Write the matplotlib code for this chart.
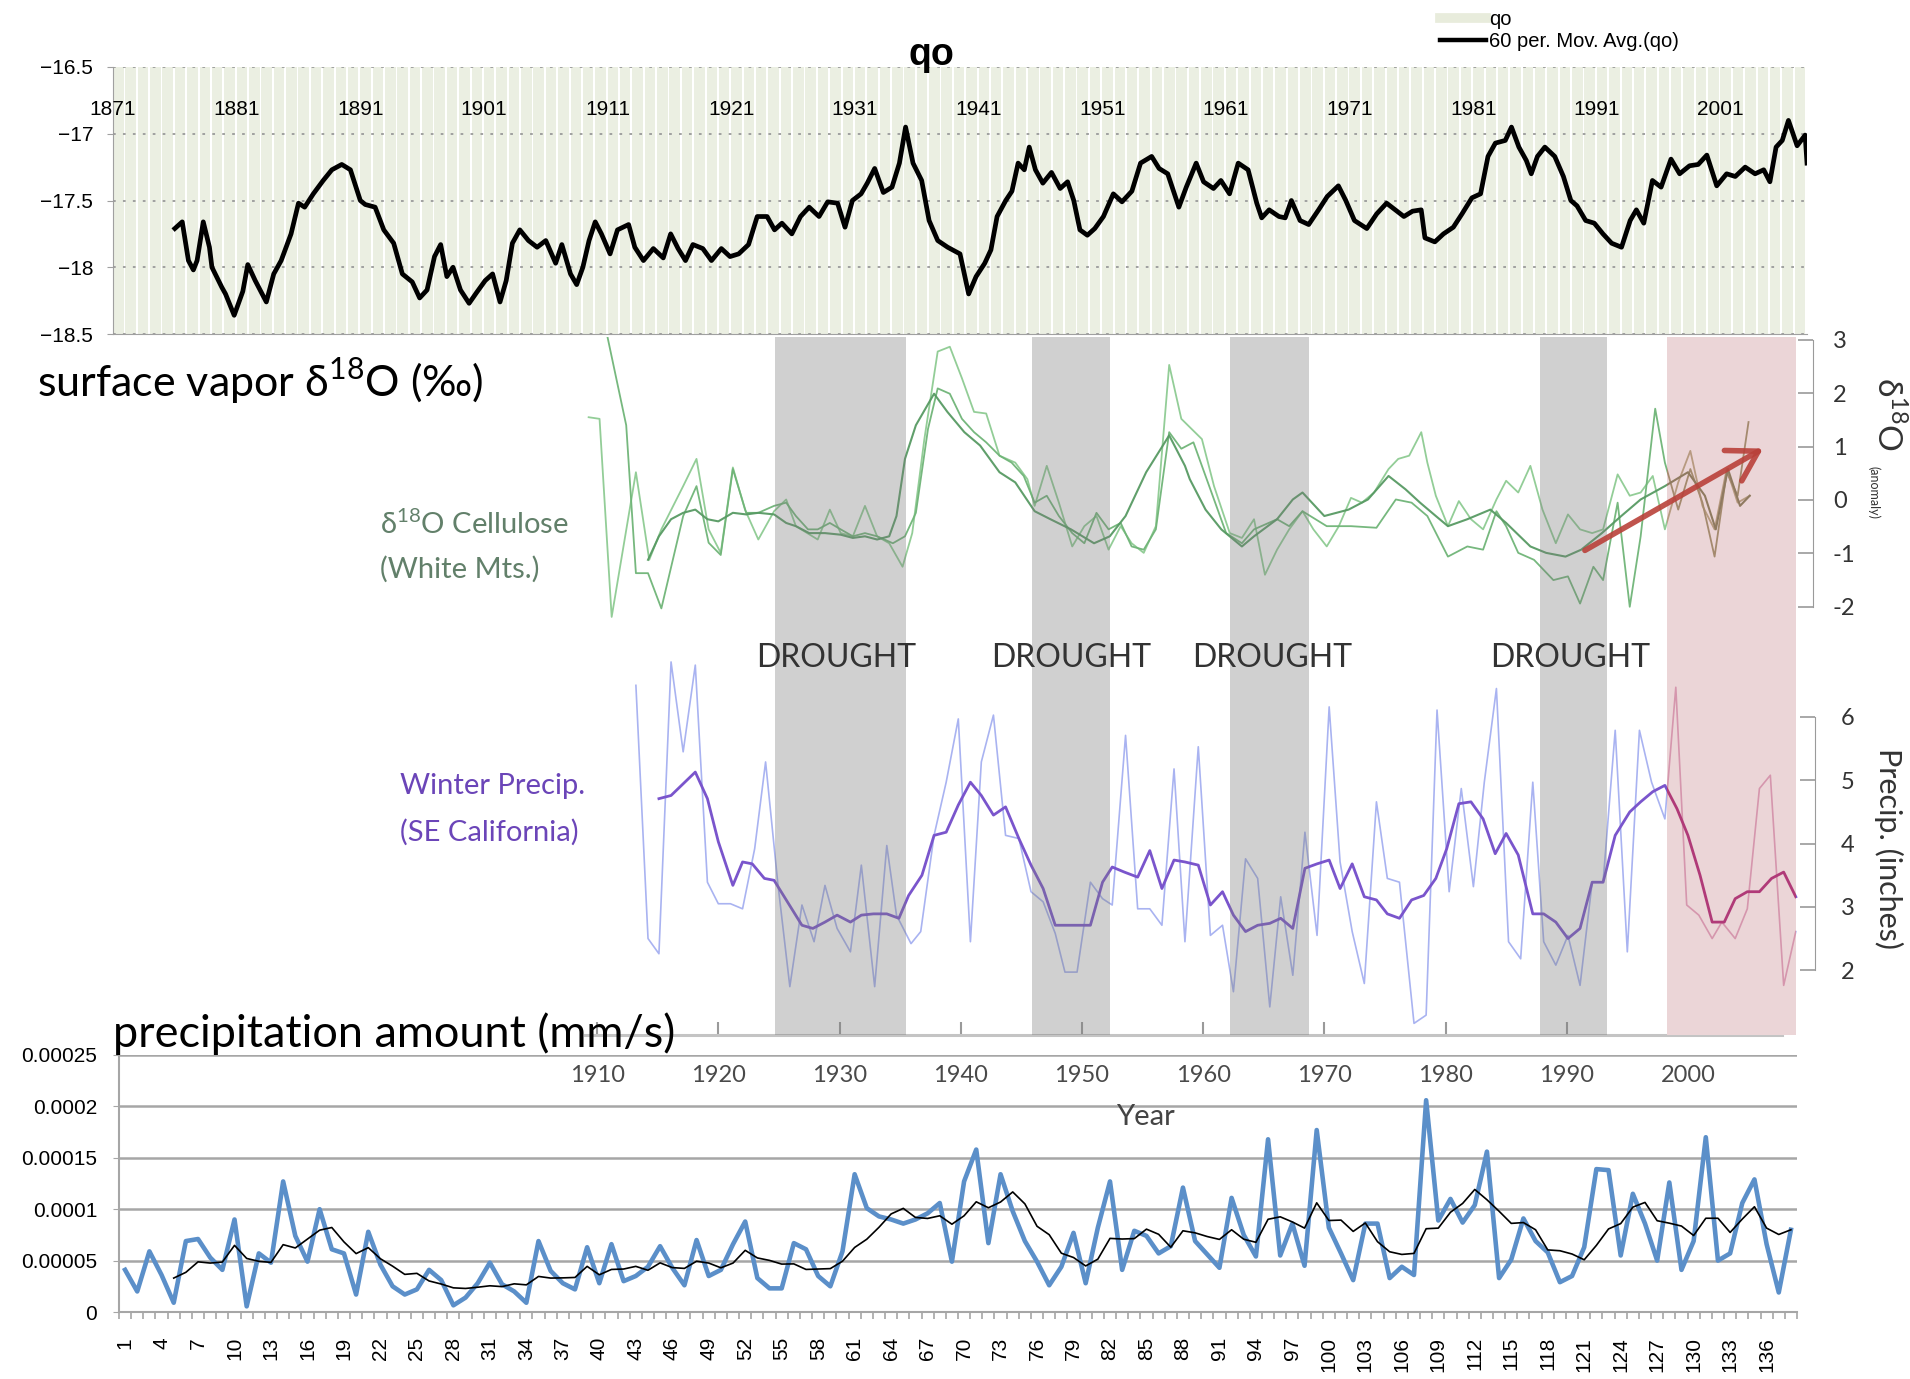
import numpy as np
import matplotlib
matplotlib.use("Agg")
import matplotlib.pyplot as plt
from matplotlib import font_manager
from matplotlib.lines import Line2D
from matplotlib.patches import FancyArrowPatch

# ---------------------------------------------------------------- data
# top panel: 60-month moving average of qo (year, value)
qo_ma_year = [1876.0,1876.6,1877.1,1877.5,1877.8,1878.3,1878.8,1879.0,1879.8,1880.1,1880.8,1881.5,1881.9,1882.5,1883.4,
              1884.0,1884.6,1885.4,1886.0,1886.5,1887.2,1888.0,1888.7,1889.5,1890.2,1891.0,1891.4,1892.2,1892.9,1893.7,
              1894.4,1895.2,1895.8,1896.4,1897.0,1897.5,1898.0,1898.5,1899.1,1899.8,1900.4,1901.1,1901.7,1902.3,1902.8,
              1903.3,1903.9,1904.6,1905.3,1906.0,1906.8,1907.3,1908.0,1908.5,1909.0,1909.5,1910.0,1910.5,1911.2,1911.8,
              1912.7,1913.2,1913.9,1914.7,1915.5,1916.1,1916.7,1917.3,1917.9,1918.7,1919.4,1920.2,1920.9,1921.6,1922.4,
              1923.1,1923.9,1924.5,1925.1,1925.9,1926.6,1927.3,1928.1,1928.8,1929.6,1930.2,1930.8,1931.5,1932.0,1932.6,
              1933.3,1934.0,1934.6,1935.1,1935.7,1936.4,1937.0,1937.7,1938.5,1939.5,1940.2,1940.8,1941.5,1942.0,1942.5,
              1943.2,1943.7,1944.2,1944.7,1945.1,1945.6,1946.2,1946.9,1947.6,1948.2,1948.7,1949.2,1949.8,1950.4,1951.1,
              1951.9,1952.6,1953.4,1954.1,1955.0,1955.6,1956.3,1957.2,1957.8,1958.6,1959.2,1960.0,1960.6,1961.3,1962.0,
              1962.8,1963.5,1963.9,1964.5,1965.3,1965.8,1966.3,1967.0,1967.7,1968.5,1969.2,1970.1,1970.7,1971.4,1972.4,
              1973.2,1974.0,1974.7,1975.4,1976.1,1976.8,1977.1,1977.9,1978.6,1979.4,1980.1,1980.9,1981.6,1982.2,1982.8,
              1983.6,1984.1,1984.7,1985.3,1985.7,1986.2,1986.8,1987.6,1988.3,1988.9,1989.4,1990.1,1990.8,1991.5,1992.2,
              1993.0,1993.7,1994.2,1994.8,1995.5,1996.2,1997.0,1997.7,1998.5,1999.2,1999.9,2000.7,2001.5,2002.2,2003.0,
              2003.8,2004.5,2005.0,2005.5,2006.0,2006.5,2007.2,2007.85,2008.0]
qo_ma_value = [-17.71,-17.66,-17.95,-18.02,-17.95,-17.66,-17.85,-18.00,-18.15,-18.20,-18.36,-18.18,-17.98,-18.10,-18.26,
               -18.05,-17.95,-17.75,-17.52,-17.55,-17.45,-17.35,-17.27,-17.23,-17.27,-17.50,-17.53,-17.55,-17.72,-17.82,
               -18.05,-18.11,-18.23,-18.17,-17.92,-17.83,-18.07,-18.00,-18.17,-18.27,-18.19,-18.10,-18.05,-18.26,-18.10,
               -17.82,-17.72,-17.80,-17.85,-17.80,-17.97,-17.83,-18.05,-18.13,-18.00,-17.80,-17.66,-17.75,-17.90,-17.72,
               -17.68,-17.85,-17.95,-17.86,-17.93,-17.75,-17.86,-17.95,-17.83,-17.86,-17.95,-17.86,-17.92,-17.90,-17.83,
               -17.62,-17.62,-17.72,-17.67,-17.75,-17.62,-17.55,-17.62,-17.51,-17.52,-17.70,-17.50,-17.45,-17.37,-17.26,
               -17.44,-17.40,-17.22,-16.95,-17.22,-17.35,-17.65,-17.80,-17.85,-17.90,-18.20,-18.07,-17.97,-17.87,-17.62,
               -17.50,-17.43,-17.22,-17.27,-17.10,-17.27,-17.37,-17.29,-17.41,-17.36,-17.50,-17.72,-17.76,-17.71,-17.62,
               -17.45,-17.51,-17.43,-17.22,-17.17,-17.26,-17.30,-17.55,-17.40,-17.22,-17.36,-17.41,-17.35,-17.45,-17.22,
               -17.27,-17.52,-17.63,-17.57,-17.62,-17.63,-17.50,-17.65,-17.68,-17.57,-17.47,-17.39,-17.50,-17.65,-17.71,
               -17.60,-17.52,-17.57,-17.62,-17.58,-17.57,-17.78,-17.81,-17.75,-17.70,-17.60,-17.48,-17.45,-17.17,-17.07,
               -17.05,-16.95,-17.10,-17.20,-17.30,-17.17,-17.10,-17.17,-17.32,-17.50,-17.54,-17.65,-17.67,-17.75,-17.82,
               -17.85,-17.65,-17.57,-17.67,-17.35,-17.40,-17.19,-17.30,-17.24,-17.23,-17.16,-17.39,-17.30,-17.32,-17.25,
               -17.30,-17.27,-17.36,-17.10,-17.05,-16.90,-17.09,-17.01,-17.22]
qo_column_years = list(range(1871, 2008))
qo_ticks = [-18.5, -18, -17.5, -17, -16.5]
qo_ticklabels = ["\u221218.5", "\u221218", "\u221217.5", "\u221217", "\u221216.5"]
qo_year_labels = list(range(1871, 2002, 10))

# middle panel: d18O cellulose anomalies (year, value) - three records
cell_a = [(1909.3,1.55),(1910.2,1.52),(1911.2,-2.19),(1913.2,0.52),(1914.3,-1.12),(1915.3,-0.55),(1917.1,0.26),
          (1918.2,0.77),(1919.2,-0.55),(1920.2,-0.99),(1921.2,0.61),(1922.2,-0.18),(1923.3,-0.74),(1924.6,-0.21),
          (1925.6,0.01),(1926.4,-0.49),(1928.2,-0.74),(1929.2,-0.18),(1930.1,-0.62),(1931.1,-0.68),(1932.1,-0.11),
          (1933.1,-0.68),(1934.1,-0.81),(1935.2,-1.25),(1936.0,-0.62),(1937.0,1.14),(1938.1,2.78),(1939.1,2.87),
          (1940.1,2.28),(1941.1,1.65),(1942.1,1.62),(1943.2,0.83),(1944.5,0.70),(1945.5,0.39),(1946.1,-0.11),
          (1947.1,0.64),(1948.1,-0.05),(1949.2,-0.87),(1950.2,-0.49),(1951.2,-0.30),(1952.2,-0.93),(1953.2,-0.49),
          (1954.1,-0.81),(1955.1,-0.99),(1956.1,-0.49),(1957.2,2.53),(1958.2,1.52),(1959.9,1.14),(1960.9,0.26),
          (1962.2,-0.62),(1963.2,-0.71),(1964.2,-0.36),(1965.1,-1.40),(1966.1,-0.93),(1967.1,-0.55),(1968.2,-0.21),
          (1969.1,-0.55),(1970.2,-0.87),(1971.2,-0.49),(1972.2,0.04),(1973.1,-0.05),(1974.1,0.14),(1975.3,0.58),
          (1976.1,0.77),(1977.0,0.83),(1978.0,1.27),(1978.5,0.70),(1979.2,0.08),(1980.2,-0.49),(1981.1,-0.02),
          (1982.1,-0.36),(1983.1,-0.55),(1984.2,0.01),(1985.0,0.36),(1986.0,0.14),(1987.0,0.64),(1988.0,-0.18),
          (1989.1,-0.81),(1990.1,-0.27),(1991.1,-0.55),(1992.1,-0.62),(1993.0,-0.55),(1994.2,0.48),(1995.2,0.08),
          (1996.1,0.14),(1997.1,0.45),(1998.1,-0.55),(1999.2,0.33),(2000.2,0.92),(2001.2,-0.11),(2002.2,-0.55),
          (2003.2,0.58),(2004.1,-0.05),(2005.1,0.08)]
cell_b = [(1910.7,3.22),(1912.4,1.40),(1913.2,-1.37),(1914.2,-1.37),(1915.3,-2.03),(1917.1,-0.30),(1918.2,0.26),
          (1919.2,-0.80),(1920.2,-1.03),(1921.2,0.58),(1922.3,-0.24),(1923.3,-0.24),(1924.6,-0.11),(1925.6,-0.05),
          (1926.4,-0.30),(1927.4,-0.55),(1928.2,-0.55),(1929.2,-0.43),(1930.1,-0.55),(1931.1,-0.68),(1932.1,-0.62),
          (1933.1,-0.68),(1934.4,-0.81),(1935.4,-0.68),(1936.3,-0.24),(1937.3,1.33),(1938.1,2.09),(1939.1,1.99),
          (1940.1,1.52),(1941.1,1.27),(1942.1,1.08),(1943.2,0.83),(1944.2,0.70),(1945.2,0.45),(1946.1,-0.05),
          (1947.1,0.08),(1948.1,-0.30),(1949.2,-0.62),(1950.2,-0.81),(1951.2,-0.24),(1952.2,-0.55),(1953.2,-0.43),
          (1954.1,-0.87),(1955.1,-0.93),(1956.1,-0.55),(1957.2,1.27),(1958.2,0.96),(1959.2,1.08),(1960.2,0.45),
          (1961.9,-0.62),(1963.2,-0.81),(1964.2,-0.55),(1966.1,-0.36),(1967.1,-0.49),(1968.2,-0.21),(1970.2,-0.49),
          (1972.2,-0.49),(1974.3,-0.52),(1975.9,0.01),(1977.2,-0.05),(1978.5,-0.30),(1980.2,-1.06),(1981.8,-0.87),
          (1983.1,-0.93),(1984.2,-0.21),(1985.0,-0.49),(1986.0,-0.99),(1987.3,-1.12),(1988.9,-1.50),(1990.1,-1.43),
          (1991.1,-1.94),(1992.2,-1.25),(1993.0,-1.50),(1994.2,-0.05),(1995.2,-2.00),(1996.1,-0.68),(1997.3,1.71),
          (1998.1,0.70),(1999.2,-0.18),(2000.2,0.58),(2001.2,-0.05),(2002.2,-1.06),(2003.2,0.52),(2004.1,0.08),
          (2005.0,1.46)]
cell_c = [(1914.2,-1.12),(1915.1,-0.68),(1916.1,-0.36),(1917.1,-0.24),(1918.1,-0.18),(1919.1,-0.36),(1920.0,-0.40),
          (1921.2,-0.24),(1922.3,-0.27),(1923.3,-0.24),(1924.6,-0.27),(1925.6,-0.43),(1926.4,-0.49),(1927.5,-0.62),
          (1928.8,-0.62),(1930.1,-0.65),(1931.1,-0.71),(1932.1,-0.68),(1933.1,-0.74),(1934.1,-0.68),(1934.7,-0.30),
          (1935.4,0.77),(1936.3,1.40),(1937.8,1.99),(1938.9,1.65),(1940.3,1.27),(1941.6,1.02),(1943.2,0.52),
          (1944.5,0.33),(1946.1,-0.21),(1947.4,-0.36),(1949.1,-0.55),(1951.0,-0.81),(1952.3,-0.68),(1953.6,-0.30),
          (1955.3,0.52),(1957.2,1.21),(1958.5,0.64),(1958.9,0.39),(1960.2,-0.18),(1961.5,-0.55),(1963.2,-0.87),
          (1964.2,-0.68),(1966.1,-0.36),(1967.4,0.01),(1968.2,0.14),(1970.0,-0.30),(1972.0,-0.18),(1973.6,0.01),
          (1975.3,0.45),(1976.7,0.20),(1977.9,-0.05),(1979.2,-0.30),(1980.2,-0.49),(1981.8,-0.36),(1983.7,-0.18),
          (1985.0,-0.43),(1987.0,-0.87),(1988.3,-0.99),(1989.9,-1.06),(1991.2,-0.93),(1992.9,-0.62),(1994.5,-0.30),
          (1996.1,0.01),(1998.1,0.26),(2000.0,0.52),(2001.4,0.08),(2002.3,-0.55),(2003.3,0.58),(2004.3,-0.11),
          (2005.1,0.08)]
# winter precipitation, SE California (inches): smoothed and annual
precip_smooth = [(1915.1,4.71),(1916.1,4.76),(1918.1,5.13),(1919.1,4.71),(1920.0,4.03),(1921.2,3.34),(1922.0,3.71),
                 (1922.8,3.68),(1923.8,3.45),(1924.6,3.42),(1925.7,3.08),(1926.9,2.71),(1927.8,2.66),(1928.8,2.76),
                 (1929.8,2.87),(1930.9,2.76),(1931.8,2.87),(1932.8,2.89),(1933.9,2.89),(1934.9,2.82),(1935.7,3.18),
                 (1936.8,3.50),(1937.8,4.13),(1938.8,4.18),(1939.8,4.61),(1940.8,4.97),(1941.7,4.76),(1942.7,4.45),
                 (1943.7,4.58),(1944.8,4.08),(1945.8,3.66),(1946.8,3.29),(1947.8,2.71),(1949.1,2.71),(1950.7,2.71),
                 (1951.7,3.39),(1952.5,3.63),(1953.5,3.55),(1954.6,3.47),(1955.6,3.89),(1956.6,3.29),(1957.6,3.74),
                 (1958.5,3.71),(1959.6,3.66),(1960.6,3.03),(1961.6,3.24),(1962.5,2.87),(1963.5,2.61),(1964.5,2.71),
                 (1965.5,2.74),(1966.4,2.82),(1967.4,2.66),(1968.4,3.61),(1969.4,3.68),(1970.4,3.74),(1971.3,3.29),
                 (1972.3,3.68),(1973.3,3.16),(1974.3,3.11),(1975.2,2.89),(1976.2,2.82),(1977.2,3.11),(1978.2,3.18),
                 (1979.2,3.45),(1980.1,3.92),(1981.1,4.63),(1982.1,4.66),(1983.1,4.39),(1984.1,3.84),(1985.0,4.16),
                 (1986.0,3.82),(1987.2,2.89),(1988.1,2.89),(1989.1,2.76),(1990.1,2.50),(1991.1,2.66),(1992.1,3.39),
                 (1993.0,3.39),(1994.0,4.13),(1995.2,4.50),(1996.1,4.66),(1997.1,4.82),(1998.1,4.92),(1999.1,4.55),
                 (2000.0,4.13),(2001.0,3.50),(2002.0,2.76),(2003.0,2.76),(2003.9,3.13),(2004.9,3.24),(2005.9,3.24),
                 (2006.9,3.45),(2007.9,3.55),(2008.9,3.16)]
precip_annual = [(1913.2,6.50),(1914.2,2.50),(1915.1,2.26),(1916.1,6.87),(1917.1,5.45),(1918.1,6.82),(1919.1,3.39),
                 (1920.0,3.05),(1921.0,3.05),(1922.0,2.97),(1923.0,3.92),(1923.9,5.29),(1924.9,3.39),(1925.9,1.74),
                 (1926.9,3.03),(1927.9,2.45),(1928.8,3.34),(1929.8,2.66),(1930.9,2.29),(1931.8,3.66),(1932.9,1.74),
                 (1933.9,3.97),(1934.7,2.87),(1935.9,2.42),(1936.7,2.61),(1937.8,4.13),(1938.8,4.97),(1939.8,5.97),
                 (1940.8,2.45),(1941.7,5.29),(1942.7,6.03),(1943.7,4.13),(1944.8,4.08),(1945.8,3.24),(1946.8,3.08),
                 (1947.8,2.58),(1948.6,1.97),(1949.6,1.97),(1950.7,3.39),(1951.7,3.13),(1952.5,3.03),(1953.6,5.71),
                 (1954.6,2.97),(1955.6,2.97),(1956.6,2.71),(1957.6,5.18),(1958.5,2.45),(1959.6,5.53),(1960.6,2.55),
                 (1961.6,2.71),(1962.5,1.66),(1963.5,3.76),(1964.5,3.45),(1965.5,1.42),(1966.4,3.16),(1967.4,1.92),
                 (1968.4,4.18),(1969.4,2.55),(1970.4,6.16),(1971.3,3.71),(1972.3,2.61),(1973.3,1.79),(1974.3,4.66),
                 (1975.2,3.45),(1976.2,3.39),(1977.4,1.16),(1978.4,1.29),(1979.3,6.11),(1980.3,3.24),(1981.3,4.87),
                 (1982.3,3.32),(1983.2,4.97),(1984.2,6.45),(1985.2,2.45),(1986.2,2.18),(1987.2,4.97),(1988.1,2.45),
                 (1989.1,2.08),(1990.1,2.55),(1991.1,1.76),(1992.1,3.39),(1993.0,3.39),(1994.0,5.79),(1995.0,2.29),
                 (1996.0,5.79),(1997.0,4.97),(1998.1,4.39),(1999.0,6.47),(1999.9,3.03),(2000.9,2.87),(2002.0,2.50),
                 (2002.8,2.76),(2003.9,2.50),(2004.9,2.97),(2005.9,4.87),(2006.8,5.08),(2007.9,1.76),(2008.9,2.61)]
drought_spans = [(1924.7, 1935.5), (1945.9, 1952.3), (1962.2, 1968.7), (1987.8, 1993.3)]
drought_label_x = [1929.7, 1949.1, 1965.7, 1990.3]
recent_span = (1998.3, 2008.9)
trend_arrow = [(1991.3, -0.97), (2006.4, 0.99)]
mid_year_ticks = list(range(1910, 2001, 10))
d18o_ticks = [3, 2, 1, 0, -1, -2]
precip_ticks = [6, 5, 4, 3, 2]

# bottom panel: precipitation amount (mm/s), categories 1..138
pr_amount = [0.000041,0.000020,0.000059,0.000036,0.000009,0.000069,0.000071,0.000053,0.000041,0.000090,
             0.0000055,0.000057,0.000048,0.000127,0.000074,0.000049,0.000100,0.000061,0.000057,0.000017,
             0.000078,0.000046,0.000025,0.000017,0.000022,0.000041,0.000031,0.0000065,0.000014,0.000028,
             0.000048,0.000027,0.000020,0.000009,0.000069,0.000040,0.000028,0.000022,0.000063,0.000028,
             0.000066,0.000030,0.000035,0.000044,0.000064,0.000043,0.000026,0.000070,0.000035,0.000041,
             0.000066,0.000088,0.000033,0.000023,0.000023,0.000067,0.000061,0.000035,0.000025,0.000059,
             0.000134,0.000101,0.000093,0.000090,0.000086,0.000090,0.000096,0.000106,0.000049,0.000127,
             0.000158,0.000067,0.000134,0.000098,0.000069,0.000049,0.000026,0.000044,0.000077,0.000028,
             0.000082,0.000127,0.000041,0.000079,0.000074,0.000057,0.000064,0.000121,0.000069,0.000056,
             0.000043,0.000111,0.000075,0.000054,0.000168,0.000055,0.000086,0.000045,0.000177,0.000082,
             0.000057,0.000031,0.000086,0.000086,0.000033,0.000044,0.000036,0.000206,0.000089,0.000110,
             0.000087,0.000104,0.000156,0.000033,0.000051,0.000091,0.000069,0.000058,0.000029,0.000035,
             0.000063,0.000139,0.000138,0.000055,0.000115,0.000086,0.000050,0.000126,0.000041,0.000069,
             0.000170,0.000050,0.000057,0.000106,0.000129,0.000066,0.000019,0.000080]
pr_categories = list(range(1, len(pr_amount) + 1))
pr_ticks = [0, 0.00005, 0.0001, 0.00015, 0.0002, 0.00025]
pr_ticklabels = ["0", "0.00005", "0.0001", "0.00015", "0.0002", "0.00025"]
pr_ma_window = 5

# ---------------------------------------------------------------- fonts
avail = {f.name for f in font_manager.fontManager.ttflist}
NARROW = (["Liberation Sans Narrow"] if "Liberation Sans Narrow" in avail else ["Liberation Sans"]) + ["DejaVu Sans"]
SANS = ["Lato", "DejaVu Sans"]
plt.rcParams["font.family"] = SANS
plt.rcParams["mathtext.fontset"] = "custom"
plt.rcParams["mathtext.rm"] = "Lato"
plt.rcParams["axes.unicode_minus"] = True

W, H = 1910, 1379
fig = plt.figure(figsize=(W / 100, H / 100), dpi=100)


def rect(l, t, r, b):
    return [l / W, 1 - b / H, (r - l) / W, (b - t) / H]


PX = 0.72  # points per pixel

# ---------------------------------------------------------------- top panel
ax1 = fig.add_axes(rect(113, 67, 1807, 334))
ax1.bar(qo_column_years, [qo_ticks[-1] - qo_ticks[0]] * len(qo_column_years), bottom=qo_ticks[0],
        width=0.85, align="edge", color="#ebefe2", zorder=1)
ax1.plot(qo_ma_year, qo_ma_value, color="black", lw=3.4, zorder=4, solid_joinstyle="round")
ax1.set_xlim(1871, 2008)
ax1.set_ylim(qo_ticks[0], qo_ticks[-1])
ax1.set_yticks(qo_ticks)
ax1.set_yticklabels(qo_ticklabels, fontsize=15, family=NARROW)
ax1.set_xticks([])
ax1.set_axisbelow(False)
ax1.yaxis.grid(True, color="#9a9a9a", lw=1.3, ls=(0, (1.5, 4)), zorder=2)
for s in ["top", "right"]:
    ax1.spines[s].set_visible(False)
ax1.spines["left"].set_color("#a0a0a0")
ax1.spines["bottom"].set_color("#a0a0a0")
ax1.tick_params(axis="y", length=6 * PX, color="#a0a0a0", pad=14 * PX)
for yr in qo_year_labels:
    ax1.text(yr, -16.82, str(yr), ha="center", va="center", fontsize=15, family=NARROW, zorder=5)
fig.text(931 / W, 1 - 55 / H, "qo", ha="center", va="center", fontsize=27, fontweight="bold", family=NARROW)
leg_handles = [Line2D([], [], color="#e8ecdc", lw=7), Line2D([], [], color="black", lw=3.2)]
fig.legend(leg_handles, ["qo", "60 per. Mov. Avg.(qo)"], loc="upper left",
           bbox_to_anchor=(1432 / W, 1 - 2 / H), frameon=False,
           prop={"family": NARROW, "size": 14.5}, handlelength=2.3, handletextpad=0.15, labelspacing=0.15,
           borderaxespad=0)

# ---------------------------------------------------------------- bottom panel (added before middle)
ax3 = fig.add_axes(rect(119, 1055, 1797, 1312))
ax3.plot(pr_categories, pr_amount, color="#5b8fc9", lw=3.3, zorder=3, solid_joinstyle="round")
pr_arr = np.array(pr_amount)
pr_ma = np.convolve(pr_arr, np.ones(pr_ma_window) / pr_ma_window, mode="valid")
ax3.plot(pr_categories[pr_ma_window - 1:], pr_ma, color="black", lw=1.2, zorder=4)
ax3.set_xlim(0.5, len(pr_amount) + 0.5)
ax3.set_ylim(pr_ticks[0], pr_ticks[-1])
ax3.set_yticks(pr_ticks)
ax3.set_yticklabels(pr_ticklabels, fontsize=15, family=NARROW)
ax3.yaxis.grid(True, color="#a6a6a6", lw=1.8)
ax3.set_axisbelow(True)
ax3.set_xticks(pr_categories[::3])
ax3.set_xticklabels([str(c) for c in pr_categories[::3]], rotation=90, fontsize=15, family=NARROW)
ax3.set_xticks(np.arange(0.5, len(pr_amount) + 1, 1), minor=True)
ax3.tick_params(axis="x", which="major", length=0, pad=25 * PX)
ax3.tick_params(axis="x", which="minor", length=7 * PX, color="#a6a6a6", width=1.2)
ax3.tick_params(axis="y", length=6 * PX, color="#a6a6a6", pad=16 * PX)
for s in ["top", "right"]:
    ax3.spines[s].set_visible(False)
for s in ["left", "bottom"]:
    ax3.spines[s].set_color("#a6a6a6")
    ax3.spines[s].set_linewidth(1.5)
ax3.patch.set_alpha(0)

# ---------------------------------------------------------------- middle panel
ppy = 12.12  # pixels per year
x_left_year = 1909.0
ml, mr, mt, mb = 585, 1830, 337, 1035
axd = fig.add_axes(rect(ml, mt, mr, mb))
axd.set_xlim(x_left_year, x_left_year + (mr - ml) / ppy)
d_per_px = 1 / 53.4
axd.set_ylim((500 - mb) * d_per_px, (500 - mt) * d_per_px)
axd.patch.set_alpha(0)

green_cols = ["#8dcb92", "#6fb477", "#579a63"]
green_pink = ["#b79a80", "#a48a6e", "#8f7a60"]
green_lw = [1.3, 1.3, 1.5]
green_sets = [cell_a, cell_b, cell_c]
for pts, col, lw in zip(green_sets, green_cols, green_lw):
    xs, ys = zip(*pts)
    axd.plot(xs, ys, color=col, lw=lw, alpha=0.95, zorder=2)

axp = axd.twinx()
p_per_px = 1 / 63.3
axp.set_ylim(6 - (mb - 717) * p_per_px, 6 + (717 - mt) * p_per_px)
axp.patch.set_alpha(0)
ax_, ay_ = zip(*precip_annual)
sx_, sy_ = zip(*precip_smooth)
axp.plot(ax_, ay_, color="#a9b3f1", lw=1.2, zorder=2)
axp.plot(sx_, sy_, color="#7a55cc", lw=2.0, zorder=3)

# drought bands (semi-transparent overlay so lines remain visible but darkened)
for a, b in drought_spans:
    axp.axvspan(a, b, ymin=0, ymax=1, color="#7b7b7b", alpha=0.35, lw=0, zorder=4)
pink = axp.axvspan(recent_span[0], recent_span[1], ymin=0, ymax=1, color="#ebd5d7", lw=0, zorder=5)
# redraw lines tinted inside recent (pink) period
for pts, col, lw in zip(green_sets, green_pink, green_lw):
    xs, ys = zip(*pts)
    ln, = axp.plot(xs, ys, color=col, lw=lw, zorder=6, transform=axd.transData)
    ln.set_clip_path(pink)
ln, = axp.plot(ax_, ay_, color="#d596ad", lw=1.2, zorder=6)
ln.set_clip_path(pink)
ln, = axp.plot(sx_, sy_, color="#b03a78", lw=2.0, zorder=6)
ln.set_clip_path(pink)

arrow = FancyArrowPatch(trend_arrow[0], trend_arrow[1], transform=axd.transData,
                        arrowstyle="->,head_length=0.75,head_width=0.45", mutation_scale=28,
                        color="#b9413a", lw=4, alpha=0.9, zorder=8)
axp.add_artist(arrow)

drought_y = (500 - 658) * d_per_px
for xlab in drought_label_x:
    axp.text(xlab, drought_y, "DROUGHT", transform=axd.transData, ha="center", va="center",
             fontsize=23, color="#333333", zorder=9)

# axes decoration of middle panel
for s in ["left", "top"]:
    axd.spines[s].set_visible(False)
    axp.spines[s].set_visible(False)
axp.spines["bottom"].set_visible(False)
axd.spines["bottom"].set_bounds(x_left_year, 2007.8)
axd.spines["bottom"].set_color("#c4c4c4")
axd.spines["bottom"].set_linewidth(2.2)
axd.set_xticks(mid_year_ticks)
axd.set_xticklabels([str(y) for y in mid_year_ticks], fontsize=17, color="#4a4a4a")
axd.tick_params(axis="x", direction="in", length=13 * PX, width=1.5, color="#9a9a9a", pad=30 * PX)

axd.yaxis.set_ticks_position("right")
axd.spines["right"].set_position(("data", 2010.3))
axd.spines["right"].set_bounds(-2, 3)
axd.spines["right"].set_color("#9a9a9a")
axd.set_yticks(d18o_ticks)
axd.set_yticklabels([str(t) for t in d18o_ticks], fontsize=17, color="#333333")
axd.tick_params(axis="y", direction="in", length=15 * PX, width=1.2, color="#9a9a9a", pad=20 * PX)

axp.spines["right"].set_position(("data", 2010.5))
axp.spines["right"].set_bounds(2, 6)
axp.spines["right"].set_color("#9a9a9a")
axp.set_yticks(precip_ticks)
axp.set_yticklabels([str(t) for t in precip_ticks], fontsize=17, color="#333333")
axp.tick_params(axis="y", direction="in", length=15 * PX, width=1.2, color="#9a9a9a", pad=26 * PX)

fig.text(1888 / W, 1 - 414 / H, r"δ$^{\mathrm{18}}$O", rotation=-90, ha="center", va="center",
         fontsize=24, color="#333333")
fig.text(1874 / W, 1 - 492 / H, "(anomaly)", rotation=-90, ha="center", va="center",
         fontsize=9, color="#333333")
fig.text(1889 / W, 1 - 848 / H, "Precip. (inches)", rotation=-90, ha="center", va="center",
         fontsize=22, color="#333333")
fig.text(1145 / W, 1 - 1117 / H, "Year", ha="center", va="center", fontsize=21, color="#444444")

fig.text(380 / W, 1 - 524 / H, r"δ$^{\mathrm{18}}$O Cellulose", ha="left", va="center",
         fontsize=21, color="#62806a")
fig.text(380 / W, 1 - 569 / H, "(White Mts.)", ha="left", va="center", fontsize=21, color="#62806a")
fig.text(400 / W, 1 - 786 / H, "Winter Precip.", ha="left", va="center", fontsize=21, color="#6b45b8")
fig.text(400 / W, 1 - 832 / H, "(SE California)", ha="left", va="center", fontsize=21, color="#6b45b8")

# panel captions
fig.text(37 / W, 1 - 397 / H, r"surface vapor δ$^{\mathrm{18}}$O (‰)", ha="left", va="baseline",
         fontsize=31, color="black")
fig.text(113 / W, 1 - 1047 / H, "precipitation amount (mm/s)", ha="left", va="baseline",
         fontsize=32.5, color="black")

fig.savefig("out.png", dpi=100)
